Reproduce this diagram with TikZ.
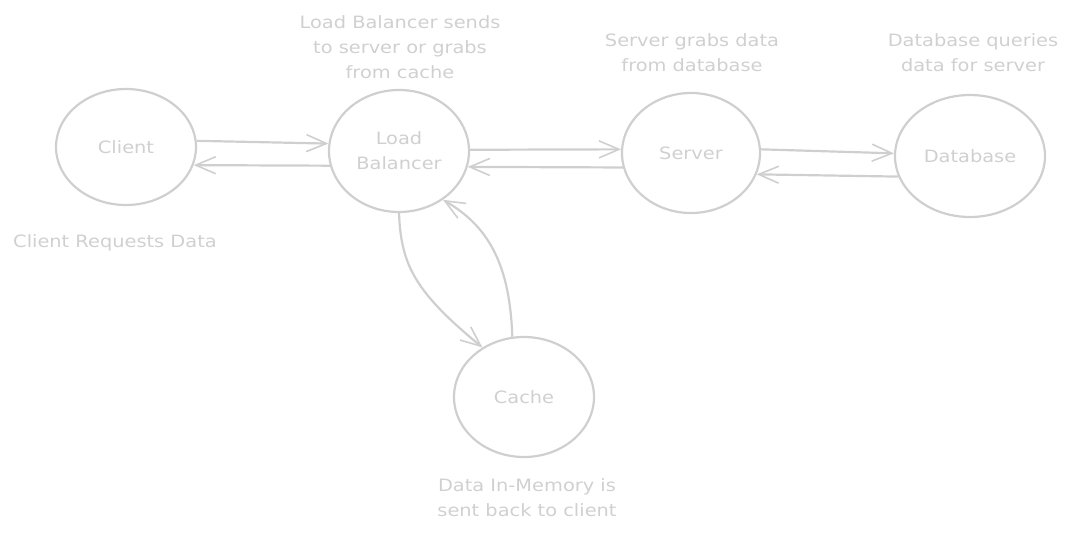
\documentclass[tikz,border=0pt]{standalone}
\usepackage{fontspec}
\setmainfont{DejaVu Sans}[FakeStretch=1.14]
\usetikzlibrary{arrows.meta,shapes.geometric}
\definecolor{linegray}{HTML}{CFCFCF}
\definecolor{textgray}{HTML}{D0D0D0}
\tikzset{
  bubble/.style={ellipse, draw=linegray, line width=2.2pt, text=textgray, align=center, inner sep=0pt},
  conn/.style={draw=linegray, line width=2.2pt, -{Straight Barb[length=20pt,width=17pt,line width=1.6pt]}},
  note/.style={text=textgray, align=center, inner sep=0pt},
}
\begin{document}
\begin{tikzpicture}[x=1pt,y=-1pt,font=\fontsize{17}{25}\selectfont]
\useasboundingbox (0,0) rectangle (1085,533);
\node[bubble, minimum width=140pt, minimum height=116pt] (client) at (126,147) {Client};
\node[bubble, minimum width=140pt, minimum height=122pt] (lb) at (399,151) {Load\\Balancer};
\node[bubble, minimum width=138pt, minimum height=120pt] (server) at (691,153) {Server};
\node[bubble, minimum width=150pt, minimum height=122pt] (db) at (970,156) {Database};
\node[bubble, minimum width=140pt, minimum height=120pt] (cache) at (524,397) {Cache};

\node[note] (nlb) at (400,47) {Load Balancer sends\\to server or grabs\\from cache};
\node[note] (nserver) at (692,53) {Server grabs data\\from database};
\node[note] (ndb) at (973,53) {Database queries\\data for server};
\node[note] (nclient) at (115,243) {Client Requests Data};
\node[note] (ncache) at (527,498) {Data In-Memory is\\sent back to client};

\draw[conn] (client.5) -- (lb.174);
\draw[conn] (lb.192) -- (client.345);
\draw[conn] (lb.1) -- (server.177);
\draw[conn] (server.192) -- (lb.347);
\draw[conn] (server.3) -- (db.178);
\draw[conn] (db.196) -- (server.342);
\draw[conn] (lb.270) .. controls (401,265) and (415,292) .. (cache.130);
\draw[conn] (cache.101) .. controls (510,270) and (492,228) .. (lb.312);
\end{tikzpicture}
\end{document}
